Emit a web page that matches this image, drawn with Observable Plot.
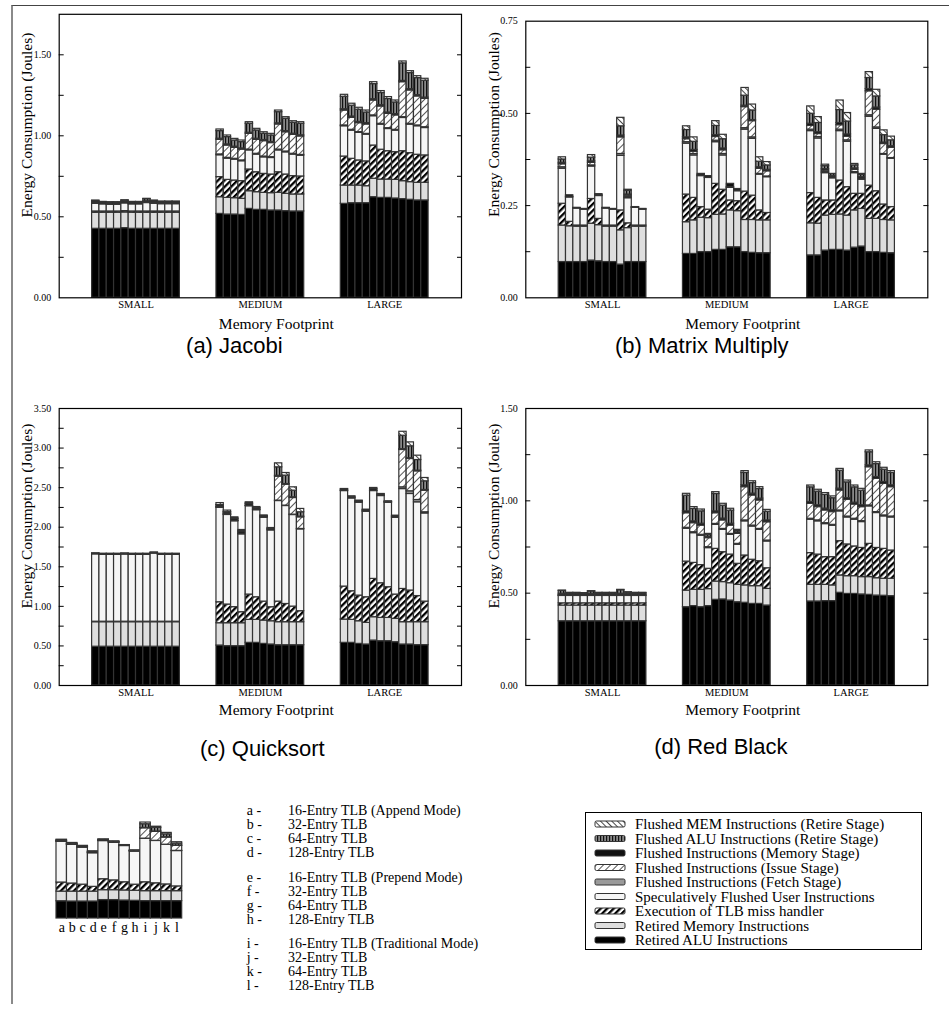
<!DOCTYPE html>
<html><head><meta charset="utf-8">
<script src="https://cdn.jsdelivr.net/npm/d3@7"></script>
<script src="https://cdn.jsdelivr.net/npm/@observablehq/plot@0.6"></script>
<style>
html,body{margin:0;padding:0;background:#fff;}
#root{position:relative;width:949px;height:1010px;overflow:hidden;font-family:"Liberation Serif","Times New Roman",serif;color:#000;}
.abs{position:absolute;}
.abs svg{overflow:visible;}
.frameLines{position:absolute;left:11px;top:5px;width:950px;height:998px;border-top:1px solid #444;border-left:2px solid #8a8a8a;pointer-events:none;z-index:5;}
.li{position:absolute;font-size:14px;line-height:14px;white-space:nowrap;transform:translateY(-50%);}
</style></head><body>
<svg width="0" height="0" style="position:absolute">
<defs>
<pattern id="pTLB" patternUnits="userSpaceOnUse" width="4.6" height="4.6" patternTransform="rotate(45)">
<rect width="4.6" height="4.6" fill="#fff"/><rect width="2.3" height="4.6" fill="#000"/></pattern>
<pattern id="pIssue" patternUnits="userSpaceOnUse" width="5" height="5" patternTransform="rotate(45)">
<rect width="5" height="5" fill="#fff"/><rect width="1" height="5" fill="#555"/></pattern>
<pattern id="pAluRet" patternUnits="userSpaceOnUse" width="3" height="3">
<rect width="3" height="3" fill="#111"/><rect x="1.6" width="0.9" height="3" fill="#fff"/></pattern>
<pattern id="pMemRet" patternUnits="userSpaceOnUse" width="4" height="4" patternTransform="rotate(-45)">
<rect width="4" height="4" fill="#fff"/><rect width="0.9" height="4" fill="#333"/></pattern>
</defs></svg>
<div id="root"><div class="frameLines"></div></div>
<script>
const SERIF = '"Liberation Serif","Times New Roman",Times,serif';
const SANS = '"Liberation Sans",Arial,Helvetica,sans-serif';

const groups = ["SMALL", "MEDIUM", "LARGE"];
const configs = ["a","b","c","d","e","f","g","h","i","j","k","l"];
const series = [
  "Retired ALU Instructions",
  "Retired Memory Instructions",
  "Execution of TLB miss handler",
  "Speculatively Flushed User Instructions",
  "Flushed Instructions (Fetch Stage)",
  "Flushed Instructions (Issue Stage)",
  "Flushed Instructions (Memory Stage)",
  "Flushed ALU Instructions (Retire Stage)",
  "Flushed MEM Instructions (Retire Stage)"
];
const fills = ["#000", "#dedede", "url(#pTLB)", "#f6f6f6", "#9a9a9a", "url(#pIssue)", "#111", "url(#pAluRet)", "url(#pMemRet)"];

const configLabels = [
  "16-Entry TLB (Append Mode)", "32-Entry TLB", "64-Entry TLB", "128-Entry TLB",
  "16-Entry TLB (Prepend Mode)", "32-Entry TLB", "64-Entry TLB", "128-Entry TLB",
  "16-Entry TLB (Traditional Mode)", "32-Entry TLB", "64-Entry TLB", "128-Entry TLB"
];

// ---------- (a) Jacobi : 36 bars = SMALL a-l, MEDIUM a-l, LARGE a-l ----------
const jacobi_retiredALU = [
 .426,.426,.426,.426,.430,.426,.426,.426,.426,.426,.426,.426,
 .518,.514,.514,.512,.549,.543,.543,.539,.539,.535,.533,.533,
 .580,.584,.584,.584,.621,.617,.617,.613,.609,.605,.601,.601];
const jacobi_retiredMEM = [
 .099,.099,.099,.099,.097,.099,.099,.099,.099,.099,.099,.099,
 .103,.103,.101,.099,.109,.109,.105,.107,.109,.107,.105,.105,
 .113,.109,.109,.105,.114,.113,.113,.115,.111,.109,.109,.109];
const jacobi_tlb = [
 .008,.008,.008,.008,.008,.008,.008,.008,.008,.008,.008,.008,
 .124,.111,.109,.109,.134,.123,.117,.115,.127,.119,.113,.111,
 .179,.165,.155,.153,.205,.184,.175,.171,.185,.179,.173,.169];
const jacobi_spec = [
 .048,.044,.042,.042,.048,.044,.044,.052,.048,.045,.045,.045,
 .135,.131,.129,.123,.118,.109,.102,.102,.135,.137,.133,.128,
 .187,.174,.170,.165,.181,.155,.137,.133,.205,.176,.176,.169];
const jacobi_fetch = [
 .002,.002,.002,.002,.002,.002,.002,.002,.002,.002,.002,.002,
 .005,.005,.005,.005,.005,.005,.005,.005,.005,.005,.005,.005,
 .005,.005,.005,.005,.005,.005,.005,.005,.005,.005,.005,.005];
const jacobi_issue = [
 .002,.002,.002,.002,.002,.002,.002,.002,.002,.002,.002,.002,
 .090,.076,.068,.067,.097,.086,.095,.087,.155,.119,.117,.114,
 .092,.074,.055,.058,.092,.107,.089,.089,.216,.206,.179,.175];
const jacobi_memStage = [
 .007,.007,.007,.007,.007,.007,.007,.007,.007,.007,.007,.007,
 .007,.007,.007,.007,.007,.007,.007,.007,.007,.007,.007,.007,
 .008,.008,.008,.008,.008,.008,.008,.008,.008,.008,.008,.008];
const jacobi_aluRetire = [
 .006,.002,.002,.002,.006,.002,.002,.013,.006,.003,.003,.003,
 .047,.045,.038,.039,.055,.051,.038,.040,.069,.076,.067,.071,
 .077,.067,.075,.066,.093,.075,.083,.072,.108,.099,.105,.104];
const jacobi_memRetire = [
 .002,.002,.002,.002,.002,.002,.002,.002,.002,.002,.002,.002,
 .010,.010,.010,.010,.010,.010,.010,.010,.010,.010,.010,.010,
 .012,.012,.012,.012,.012,.012,.012,.012,.012,.012,.012,.012];

// ---------- (b) Matrix Multiply ----------
const matrix_retiredALU = [
 .097,.097,.097,.097,.101,.099,.097,.097,.090,.097,.097,.097,
 .119,.119,.124,.124,.130,.130,.137,.137,.124,.122,.121,.121,
 .115,.115,.128,.130,.130,.128,.136,.139,.124,.124,.122,.121];
const matrix_retiredMEM = [
 .099,.097,.096,.096,.100,.098,.096,.096,.093,.092,.096,.096,
 .086,.091,.093,.092,.095,.096,.100,.098,.087,.089,.089,.089,
 .087,.086,.095,.095,.096,.095,.101,.102,.090,.090,.089,.089];
const matrix_tlb = [
 .059,.012,.003,.003,.067,.017,.003,.003,.054,.013,.003,.003,
 .075,.061,.029,.023,.084,.067,.027,.027,.077,.066,.027,.020,
 .082,.070,.041,.039,.092,.077,.045,.041,.090,.075,.042,.036];
const matrix_spec = [
 .095,.066,.046,.043,.088,.062,.046,.043,.148,.068,.048,.043,
 .138,.115,.084,.086,.113,.093,.034,.027,.168,.154,.097,.097,
 .168,.161,.074,.060,.134,.123,.056,.038,.187,.169,.135,.131];
const matrix_fetch = [
 .004,.002,.001,.001,.003,.002,.001,.001,.005,.003,.001,.001,
 .004,.004,.002,.001,.004,.004,.002,.002,.004,.004,.002,.002,
 .004,.004,.003,.003,.004,.004,.003,.003,.004,.004,.002,.002];
const matrix_issue = [
 .008,0,0,0,.007,0,0,0,.045,.004,0,0,
 .008,.006,0,0,.010,.010,0,0,.057,.044,.014,.014,
 .010,.008,.004,0,.012,.010,.006,0,.065,.048,.027,.028];
const matrix_memStage = [
 .004,.004,.001,.001,.004,.003,.001,.001,.005,.003,.001,.001,
 .005,.005,.004,.004,.005,.005,.009,.004,.004,.003,.004,.004,
 .006,.005,.004,.004,.006,.006,.004,.004,.006,.006,.004,.004];
const matrix_aluRetire = [
 .009,0,0,0,.010,0,0,0,.025,.010,0,0,
 .020,.022,0,0,.025,.025,0,0,.027,.026,.015,.012,
 .027,.025,.008,.005,.035,.035,.008,.006,.030,.030,.020,.016];
const matrix_memRetire = [
 .006,0,0,0,.007,0,0,0,.023,.003,0,0,
 .010,.012,0,0,.013,.012,0,0,.021,.016,.012,.009,
 .020,.016,.004,0,.026,.023,.004,.003,.016,.018,.013,.010];

// ---------- (c) Quicksort ----------
const quick_retiredALU = [
 .490,.490,.490,.490,.490,.490,.490,.490,.490,.490,.490,.490,
 .505,.497,.497,.497,.539,.539,.526,.518,.509,.509,.509,.509,
 .539,.539,.526,.518,.568,.560,.560,.547,.518,.518,.510,.510];
const quick_retiredMEM = [
 .310,.310,.310,.310,.310,.310,.310,.310,.310,.310,.310,.310,
 .282,.290,.290,.290,.290,.290,.295,.294,.291,.291,.291,.291,
 .294,.290,.286,.273,.295,.294,.294,.295,.282,.282,.290,.290];
const quick_tlb = [
 .006,.006,.006,.006,.006,.006,.006,.006,.006,.006,.006,.006,
 .265,.236,.203,.139,.320,.286,.239,.177,.260,.230,.197,.139,
 .417,.362,.324,.324,.484,.438,.388,.307,.420,.400,.330,.260];
const quick_spec = [
 .852,.846,.846,.846,.850,.846,.846,.846,.862,.846,.846,.846,
 1.193,1.132,1.085,.984,1.116,1.100,1.060,.971,1.271,1.238,1.157,1.034,
 1.207,1.173,1.174,1.081,1.110,1.102,1.068,.971,1.262,1.220,1.185,1.114];
const quick_fetch = [
 .002,.002,.002,.002,.002,.002,.002,.002,.002,.002,.002,.002,
 .005,.005,.005,.005,.005,.005,.005,.005,.005,.005,.005,.005,
 .005,.005,.005,.005,.005,.005,.005,.005,.022,.034,.029,.015];
const quick_issue = [
 0,0,0,0,0,0,0,0,0,0,0,0,
 .005,.005,.005,.005,.005,.005,.005,.005,.303,.265,.210,.147,
 0,0,0,0,0,0,0,0,.472,.408,.362,.273];
const quick_memStage = [
 .008,.008,.008,.008,.008,.008,.008,.008,.008,.008,.008,.008,
 .020,.020,.020,.025,.020,.015,.010,.010,.011,.008,.009,.009,
 .015,.015,.015,.015,.020,.015,.008,.015,.010,.010,.009,.009];
const quick_aluRetire = [
 0,0,0,0,0,0,0,0,0,0,0,0,
 .005,.005,.005,.005,.005,.005,.003,.003,.107,.106,.084,.055,
 0,0,0,0,0,0,0,0,.170,.150,.134,.109];
const quick_memRetire = [
 .002,.002,.002,.002,.002,.002,.002,.002,.002,.002,.002,.002,
 .025,.020,.015,.015,.015,.010,.005,.007,.050,.033,.042,.042,
 .006,.006,.006,.006,.014,.006,.004,.006,.050,.050,.055,.042];

// ---------- (d) Red Black ----------
const rb_retiredALU = [
 .348,.348,.348,.348,.348,.348,.348,.348,.348,.348,.348,.348,
 .424,.430,.424,.430,.464,.466,.460,.451,.448,.442,.442,.433,
 .455,.455,.457,.457,.502,.496,.496,.493,.491,.487,.486,.484];
const rb_retiredMEM = [
 .085,.085,.085,.085,.085,.085,.085,.085,.085,.085,.085,.085,
 .090,.088,.094,.092,.099,.094,.094,.094,.094,.096,.096,.090,
 .090,.090,.088,.085,.094,.096,.096,.094,.096,.094,.092,.094];
const rb_tlb = [
 .012,.012,.012,.012,.012,.012,.012,.012,.012,.012,.012,.012,
 .157,.146,.134,.110,.177,.162,.155,.114,.162,.143,.135,.112,
 .172,.164,.150,.153,.186,.172,.161,.158,.180,.164,.162,.153];
const rb_spec = [
 .040,.040,.040,.040,.040,.040,.040,.040,.040,.040,.040,.040,
 .178,.161,.159,.112,.130,.121,.107,.103,.185,.180,.170,.145,
 .181,.180,.179,.170,.161,.146,.145,.140,.203,.189,.176,.179];
const rb_fetch = [
 .002,.002,.002,.002,.002,.002,.002,.002,.002,.002,.002,.002,
 .005,.005,.005,.005,.005,.005,.005,.005,.005,.005,.005,.005,
 .005,.005,.005,.005,.005,.005,.005,.005,.005,.005,.005,.005];
const rb_issue = [
 .002,.002,.002,.002,.002,.002,.002,.002,.002,.002,.002,.002,
 .079,.049,.050,.049,.058,.046,.045,.054,.180,.163,.154,.099,
 .081,.072,.069,.069,.108,.090,.077,.076,.207,.180,.171,.159];
const rb_memStage = [
 .008,.008,.008,.008,.008,.008,.008,.008,.008,.008,.008,.008,
 .010,.010,.010,.008,.010,.010,.010,.008,.010,.010,.010,.010,
 .010,.010,.010,.010,.010,.010,.010,.010,.010,.010,.010,.010];
const rb_aluRetire = [
 .015,.003,.003,.001,.012,.003,.003,.003,.019,.006,.003,.003,
 .085,.067,.067,.010,.094,.070,.071,.008,.067,.057,.052,.047,
 .079,.074,.074,.065,.097,.085,.083,.079,.071,.070,.067,.067];
const rb_memRetire = [
 .002,.002,.002,.002,.002,.002,.002,.002,.002,.002,.002,.002,
 .010,.010,.010,.005,.010,.010,.010,.006,.010,.010,.010,.010,
 .010,.010,.010,.010,.010,.010,.010,.010,.010,.010,.010,.010];

// y-axis tick labels
const ticksA = [0, 0.5, 1.0, 1.5];
const ticksB = [0, 0.25, 0.5, 0.75];
const ticksC = [0, 0.5, 1.0, 1.5, 2.0, 2.5, 3.0, 3.5];
const ticksD = [0, 0.5, 1.0, 1.5];
const minorA = [0.25, 0.5, 0.75, 1.0, 1.25, 1.5];
const minorB = [0.125, 0.25, 0.375, 0.5, 0.625];
const minorC = [0.25, 0.5, 0.75, 1.0, 1.25, 1.5, 1.75, 2.0, 2.25, 2.5, 2.75, 3.0, 3.25];
const minorD = [0.25, 0.5, 0.75, 1.0, 1.25];

// ---------- table building ----------
const GROUP_STEP = 17; // 12 bars + gap of 5 bar widths
function buildRows(stack, offset = 0, count = 36) {
  const rows = [];
  for (let b = offset; b < offset + count; b++) {
    const g = Math.floor(b / 12), k = b % 12;
    const pos = (count === 36 ? g * GROUP_STEP : 0) + k;
    let acc = 0;
    stack.forEach((arr, s) => {
      const v = arr[b];
      if (v > 0) rows.push({group: groups[g], config: configs[k], series: series[s], x1: pos, x2: pos + 1, y1: acc, y2: acc + v});
      acc += v;
    });
  }
  return rows;
}
const groupCenters = groups.map((g, i) => i * GROUP_STEP + 6);
const centerName = new Map(groupCenters.map((c, i) => [c, groups[i]]));

function makePanel(o) {
  const rows = buildRows(o.stack);
  const fig = Plot.plot({
    width: o.width, height: o.height,
    marginLeft: o.mL, marginRight: o.mR, marginTop: o.mT, marginBottom: o.mB,
    style: {fontFamily: SERIF, fontSize: "10px", background: "transparent", overflow: "visible", color: "#000"},
    x: {type: "linear", domain: [-4.5, 50.5]},
    y: {domain: o.yDomain},
    color: {type: "ordinal", domain: series, range: fills},
    marks: [
      Plot.rect(rows, {x1: "x1", x2: "x2", y1: "y1", y2: "y2", fill: "series", stroke: "#333", strokeWidth: 1.2}),
      Plot.frame({stroke: "#000", strokeWidth: 1.2}),
      Plot.axisX({ticks: groupCenters, tickFormat: d => centerName.get(d), tickSize: 0, tickPadding: 3, fontSize: 10.5, label: null}),
      Plot.axisY({ticks: o.ticks, tickFormat: d3.format(".2f"), tickSize: 0, tickPadding: 8, fontSize: 10, label: null}),
      Plot.axisY({anchor: "left", ticks: o.minor, tickSize: -5, fill: "none", label: null}),
      Plot.axisY({anchor: "right", ticks: o.minor, tickSize: -5, fill: "none", label: null}),
      Plot.text(["Energy Consumption (Joules)"], {text: d => d, frameAnchor: "left", textAnchor: "middle", lineAnchor: "middle", rotate: -90, dx: -32, dy: o.yTitleDy, fontSize: 15.5, fontFamily: SERIF}),
      Plot.text(["Memory Footprint"], {text: d => d, frameAnchor: "bottom", textAnchor: "middle", dx: 16, dy: o.xTitleDy, fontSize: 15.5, fontFamily: SERIF}),
      Plot.text([o.caption], {text: d => d, frameAnchor: "bottom", textAnchor: "middle", dx: o.capDx, dy: o.capDy, fontSize: 22, fontFamily: SANS})
    ]
  });
  const div = document.createElement("div");
  div.className = "abs";
  div.style.left = o.left + "px";
  div.style.top = o.top + "px";
  div.appendChild(fig);
  document.getElementById("root").appendChild(div);
}

makePanel({left: 0, top: 0, width: 470, height: 370, mL: 58.7, mR: 9, mT: 13.8, mB: 72.7,
  yDomain: [0, 1.75], ticks: ticksA, minor: minorA, caption: "(a) Jacobi", capDx: -26, capDy: 55, xTitleDy: 31, yTitleDy: -31,
  stack: [jacobi_retiredALU, jacobi_retiredMEM, jacobi_tlb, jacobi_spec, jacobi_fetch, jacobi_issue, jacobi_memStage, jacobi_aluRetire, jacobi_memRetire]});
makePanel({left: 470, top: 0, width: 479, height: 370, mL: 55.3, mR: 21.7, mT: 20.7, mB: 72.7,
  yDomain: [0, 0.75], ticks: ticksB, minor: minorB, caption: "(b) Matrix Multiply", capDx: -25, capDy: 55, xTitleDy: 31, yTitleDy: -35,
  stack: [matrix_retiredALU, matrix_retiredMEM, matrix_tlb, matrix_spec, matrix_fetch, matrix_issue, matrix_memStage, matrix_aluRetire, matrix_memRetire]});
makePanel({left: 0, top: 380, width: 470, height: 400, mL: 58.7, mR: 9, mT: 28, mB: 95,
  yDomain: [0, 3.5], ticks: ticksC, minor: minorC, caption: "(c) Quicksort", capDx: 2, capDy: 70, xTitleDy: 29, yTitleDy: -31,
  stack: [quick_retiredALU, quick_retiredMEM, quick_tlb, quick_spec, quick_fetch, quick_issue, quick_memStage, quick_aluRetire, quick_memRetire]});
makePanel({left: 470, top: 380, width: 479, height: 400, mL: 55.3, mR: 21.7, mT: 28, mB: 95,
  yDomain: [0, 1.5], ticks: ticksD, minor: minorD, caption: "(d) Red Black", capDx: -6, capDy: 68, xTitleDy: 29, yTitleDy: -31,
  stack: [rb_retiredALU, rb_retiredMEM, rb_tlb, rb_spec, rb_fetch, rb_issue, rb_memStage, rb_aluRetire, rb_memRetire]});

// ---------- mini example chart (the a..l key, drawn from Quicksort MEDIUM) ----------
{
  const quickStack = [quick_retiredALU, quick_retiredMEM, quick_tlb, quick_spec, quick_fetch, quick_issue, quick_memStage, quick_aluRetire, quick_memRetire];
  const rows = buildRows(quickStack, 12, 12);
  const letterTicks = configs.map((c, i) => i + 0.5);
  const fig = Plot.plot({
    width: 160, height: 170, marginLeft: 16, marginRight: 18.3, marginTop: 28.6, marginBottom: 32,
    style: {fontFamily: SERIF, fontSize: "14px", background: "transparent", overflow: "visible", color: "#000"},
    x: {type: "linear", domain: [0, 12]},
    y: {domain: [0, 3.2], axis: null},
    color: {type: "ordinal", domain: series, range: fills},
    marks: [
      Plot.rect(rows, {x1: "x1", x2: "x2", y1: "y1", y2: "y2", fill: "series", stroke: "#333", strokeWidth: 1.2}),
      Plot.axisX({ticks: letterTicks, tickFormat: d => configs[Math.floor(d)], tickSize: 0, tickPadding: 4, fontSize: 14, label: null})
    ]
  });
  const div = document.createElement("div");
  div.className = "abs"; div.style.left = "40px"; div.style.top = "780px";
  div.appendChild(fig);
  document.getElementById("root").appendChild(div);
}

// ---------- configuration list ----------
{
  const root = document.getElementById("root");
  const ys = [811, 825, 839, 853, 878, 892, 906, 920, 944, 958, 972, 986];
  configs.forEach((c, i) => {
    const a = document.createElement("div");
    a.className = "li"; a.style.left = "246.7px"; a.style.top = ys[i] + "px"; a.textContent = c + " -";
    root.appendChild(a);
    const t = document.createElement("div");
    t.className = "li"; t.style.left = "288px"; t.style.top = ys[i] + "px"; t.textContent = configLabels[i];
    root.appendChild(t);
  });
}

// ---------- legend box ----------
{
  const W = 337, H = 138;
  const svg = d3.create("svg").attr("width", W).attr("height", H).style("overflow", "visible");
  svg.append("rect").attr("x", 0.5).attr("y", 0.5).attr("width", W - 1).attr("height", H - 1)
    .attr("fill", "#fff").attr("stroke", "#000").attr("stroke-width", 1);
  const order = series.map((s, i) => i).reverse();
  order.forEach((si, r) => {
    const cy = 12 + r * 14.5;
    svg.append("rect").attr("x", 10).attr("y", cy - 3).attr("width", 30).attr("height", 6).attr("rx", 1.5)
      .attr("fill", fills[si]).attr("stroke", "#333").attr("stroke-width", 1);
    svg.append("text").attr("x", 50).attr("y", cy).attr("dy", "0.35em")
      .attr("font-family", SERIF).attr("font-size", 15).attr("fill", "#000").text(series[si]);
  });
  const div = document.createElement("div");
  div.className = "abs"; div.style.left = "585px"; div.style.top = "812px";
  div.appendChild(svg.node());
  document.getElementById("root").appendChild(div);
}
</script>
</body></html>
